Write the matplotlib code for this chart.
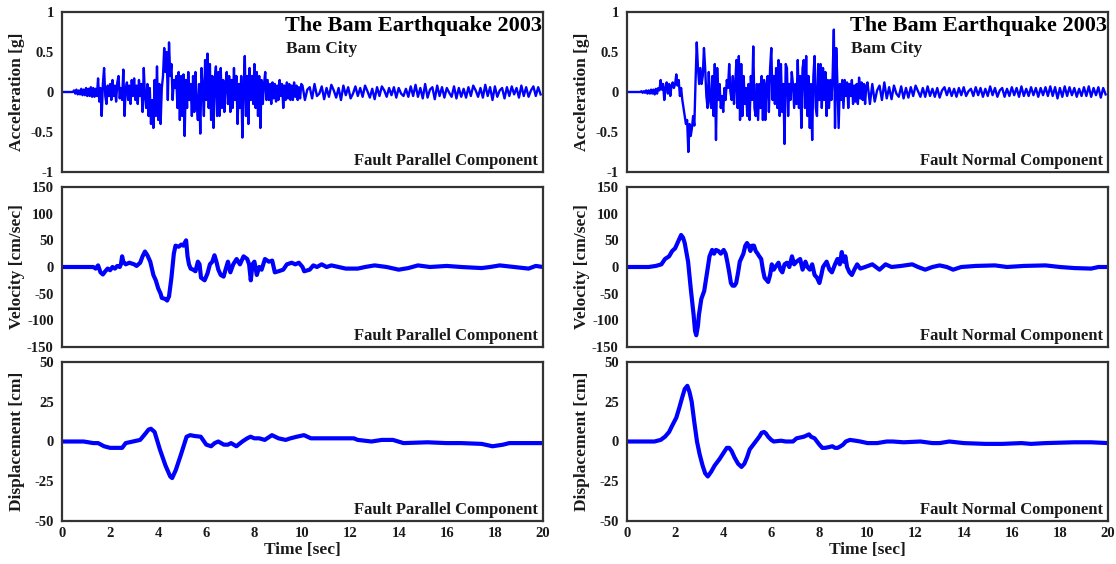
import numpy as np
import matplotlib
matplotlib.use("Agg")
import matplotlib.pyplot as plt

# ---------------- data ----------------
acc_dt_head = 0.05   # sampling step 0-10 s
acc_dt_tail = 0.10   # sampling step 10-20 s

acc_fp_head = [
    0, 0, 0, 0, 0, 0, 0, 0, 0, 0,
    0.02, -0.02, 0.03, -0.03, 0.02, -0.03, 0.04, -0.04, 0.03, -0.04,
    0.05, -0.05, 0.04, -0.05, 0.06, -0.06, 0.05, -0.06, 0.04, -0.05,
    0.17, -0.12, 0.05, -0.30, 0.10, 0.30, -0.05, -0.15, 0.08, -0.05,
    0.10, -0.10, 0.15, -0.05, 0.08, -0.12, 0.12, 0.20, -0.08, 0.05,
    -0.10, 0.28, -0.30, 0.05, 0.12, -0.10, 0.08, -0.15, 0.15, -0.05,
    0.17, -0.10, 0.08, -0.15, 0.15, -0.05, 0.10, -0.25, 0.30, -0.05,
    -0.20, 0.10, -0.30, 0.05, -0.40, -0.10, -0.45, 0.15, -0.30, 0.32,
    -0.35, 0.10, -0.40, 0.05, 0.20, 0.55, 0.25, 0.50, -0.10, 0.62,
    0.20, 0.35, -0.10, 0.15, 0.05, 0.20, -0.20, 0.25, -0.35, 0.20,
    -0.30, 0.22, -0.55, 0.15, -0.20, 0.25, -0.10, 0.10, -0.30, 0.20,
    -0.25, 0.25, -0.15, -0.35, 0.10, -0.52, 0.30, 0.05, -0.30, 0.40,
    -0.10, 0.48, -0.20, 0.35, -0.35, 0.20, -0.45, 0.15, 0.32, -0.30,
    0.25, -0.30, 0.30, -0.20, 0.15, -0.25, 0.10, 0.25, -0.15, 0.20,
    -0.25, 0.15, -0.20, 0.30, -0.10, 0.20, -0.40, 0.10, -0.20, 0.20,
    -0.57, 0.05, 0.45, -0.30, 0.20, -0.40, 0.30, -0.10, 0.20, -0.15,
    0.35, -0.20, 0.25, -0.30, 0.20, -0.45, 0.15, -0.15, 0.10, 0.25,
    -0.10, 0.15, -0.10, 0.10, -0.15, 0.12, -0.08, 0.10, -0.12, 0.08,
    -0.10, 0.15, -0.05, 0.10, -0.20, 0.08, -0.10, 0.12, -0.08, 0.10,
    -0.10, 0.08, -0.10, 0.12, -0.06, 0.08, -0.10, 0.06, -0.08, 0.10,
]
acc_fp_tail = [
    0.08, -0.10, 0.03, 0.06, -0.08, 0.10, -0.05, -0.02, 0.07, -0.09,
    0.05, -0.06, 0.09, 0.02, -0.07, 0.05, -0.10, 0.08, -0.04, 0.06,
    -0.08, -0.02, 0.07, -0.05, 0.05, -0.06, 0.08, 0.01, -0.07, 0.04,
    -0.09, 0.06, -0.05, 0.07, 0.02, -0.06, 0.05, -0.04, 0.06, -0.07,
    0.05, -0.02, -0.05, 0.04, -0.06, 0.07, -0.05, 0.09, -0.06, 0.05,
    -0.08, 0.10, -0.07, 0.03, 0.06, -0.09, 0.08, -0.05, 0.06, -0.07,
    0.05, -0.01, -0.06, 0.07, -0.08, 0.05, -0.06, 0.04, -0.07, 0.06,
    -0.05, 0.08, 0.02, -0.06, 0.05, -0.07, 0.09, -0.05, 0.06, -0.10,
    0.07, -0.06, 0.02, 0.05, -0.08, 0.06, -0.05, 0.07, -0.03, 0.05,
    -0.07, 0.08, -0.05, 0.06, -0.06, 0.02, 0.07, -0.05, 0.06, -0.03,
]

acc_fn_head = [
    0, 0, 0, 0, 0, 0, 0, 0, 0, 0,
    0, 0, 0.01, -0.01, 0.01, -0.01, 0.02, -0.02, 0.02, -0.02,
    0.03, -0.02, 0.03, -0.03, 0.04, -0.02, 0.05, 0.02, 0.15, 0.03,
    0.10, -0.10, 0.05, 0.12, -0.02, 0.10, -0.05, 0.08, 0.12, 0.05,
    0.10, 0.22, 0.08, 0.15, -0.05, 0.05, -0.10, -0.20, -0.30, -0.40,
    -0.35, -0.75, -0.40, -0.55, -0.45, -0.30, -0.42, 0.13, 0.62, 0.30,
    0.10, 0.30, 0.10, 0.20, 0.55, 0.30, -0.05, -0.20, 0.25, -0.10,
    -0.20, 0.20, -0.30, 0.35, -0.60, 0.30, -0.10, 0.10, -0.20, -0.05,
    -0.25, 0.05, -0.10, 0.15, 0.05, 0.35, 0.00, -0.10, 0.20, -0.15,
    0.10, 0.40, -0.20, 0.45, -0.35, 0.35, -0.30, 0.20, -0.15, 0.05,
    -0.30, 0.10, -0.35, 0.20, -0.10, 0.57, -0.20, -0.30, 0.10, -0.35,
    0.10, -0.20, 0.20, -0.35, 0.15, -0.35, 0.10, 0.20, -0.25, 0.30,
    0.55, -0.10, 0.20, -0.15, 0.30, -0.20, 0.40, -0.30, 0.35, -0.25,
    0.10, -0.65, 0.35, 0.30, -0.30, 0.10, -0.10, 0.25, 0.10, -0.20,
    0.10, -0.15, 0.40, -0.20, 0.20, -0.45, 0.30, 0.40, -0.20, 0.45,
    -0.30, 0.20, -0.45, 0.10, -0.60, 0.20, 0.45, -0.20, -0.30, 0.35,
    -0.10, 0.35, -0.20, 0.30, -0.10, 0.25, -0.30, 0.15, -0.20, 0.15,
    -0.10, 0.20, 0.78, -0.45, 0.55, 0.10, -0.45, 0.10, -0.10, 0.15,
    -0.20, 0.15, -0.05, 0.12, -0.20, 0.10, -0.05, 0.15, -0.15, 0.08,
    -0.12, 0.10, -0.15, 0.18, -0.08, 0.12, -0.10, 0.10, -0.15, 0.08,
]
acc_fn_tail = [
    0.12, -0.15, 0.10, -0.12, 0.02, 0.08, -0.10, 0.12, -0.08, 0.06,
    -0.09, 0.08, -0.02, -0.06, 0.07, -0.08, 0.05, -0.07, 0.06, -0.05,
    0.08, 0.01, -0.06, 0.05, -0.06, 0.07, -0.05, 0.04, -0.06, 0.05,
    -0.07, 0.02, 0.06, -0.04, 0.05, -0.05, 0.04, -0.06, 0.05, -0.04,
    0.06, -0.05, 0.01, 0.04, -0.05, 0.06, -0.04, 0.05, -0.06, 0.04,
    -0.05, 0.07, -0.04, 0.05, -0.06, 0.02, 0.05, -0.06, 0.04, -0.05,
    0.06, -0.04, 0.05, -0.06, 0.07, -0.05, 0.04, -0.05, 0.06, -0.04,
    0.05, -0.06, 0.05, -0.04, 0.06, -0.05, 0.07, -0.05, 0.06, -0.08,
    0.05, -0.06, 0.07, -0.05, 0.06, -0.04, 0.05, -0.06, 0.04, -0.05,
    0.06, -0.05, 0.07, -0.06, 0.05, -0.04, 0.06, -0.07, 0.05, -0.03,
]

vel_fp_t = [0, 1.3, 1.4, 1.5, 1.6, 1.7, 1.8, 1.9, 2.0, 2.1, 2.2, 2.3, 2.4, 2.45, 2.5, 2.55, 2.65, 2.8, 3.0, 3.1,
            3.25, 3.35, 3.45, 3.55, 3.67, 3.8, 3.9, 4.0, 4.1, 4.15, 4.3, 4.37, 4.45, 4.55, 4.65, 4.72, 4.85, 4.96, 5.05, 5.1,
            5.16, 5.22, 5.28, 5.35, 5.45, 5.55, 5.65, 5.72, 5.78, 5.93, 6.05, 6.15, 6.25, 6.34, 6.42, 6.5, 6.6, 6.72, 6.8, 6.9,
            7.0, 7.12, 7.26, 7.4, 7.55, 7.7, 7.78, 7.85, 7.92, 8.0, 8.1, 8.2, 8.3, 8.44, 8.6, 8.74, 8.85, 9.0, 9.2, 9.35,
            9.55, 9.7, 9.85, 10.0, 10.07, 10.3, 10.45, 10.6, 10.8, 11.0, 11.2, 11.5, 11.8, 12.3, 12.6, 13.0, 13.5, 14.0, 14.4, 14.8,
            15.3, 16.0, 16.6, 17.45, 17.8, 18.2, 18.8, 19.4, 19.7, 20.0]
vel_fp_v = [0, 0, -3, 3, -10, -14, -8, -3, -6, 0, -3, 2, 0, 5, 20, 10, 5, 8, 5, 2,
            8, 20, 29, 22, 10, -15, -25, -40, -50, -58, -60, -63, -55, -20, 25, 40, 38, 42, 40, 45,
            50, 20, 5, -3, -5, -8, 10, 5, -20, -25, -12, 5, 10, 22, 10, -5, -15, -18, -5, 10,
            -10, 5, 15, 5, 20, 15, 5, -25, 5, 10, -15, 0, -5, 15, 10, 12, -10, -8, -5, 5,
            8, 5, 8, 0, -8, -5, 3, 0, 5, 0, 3, 0, -3, -3, 0, 3, 0, -5, -2, 3,
            0, 2, 0, -2, 0, 3, 0, -3, 2, 0]

vel_fn_t = [0, 0.9, 1.2, 1.43, 1.58, 1.75, 1.88, 2.0, 2.1, 2.25, 2.33, 2.4, 2.54, 2.65, 2.77, 2.83, 2.88, 2.95, 2.99, 3.09,
            3.21, 3.33, 3.43, 3.54, 3.62, 3.7, 3.8, 3.9, 4.02, 4.1, 4.17, 4.25, 4.32, 4.39, 4.47, 4.54, 4.62, 4.69, 4.84, 4.92,
            4.99, 5.06, 5.13, 5.2, 5.28, 5.35, 5.43, 5.5, 5.58, 5.65, 5.72, 5.87, 5.95, 6.02, 6.1, 6.17, 6.3, 6.38, 6.46, 6.55,
            6.65, 6.75, 6.86, 6.95, 7.05, 7.2, 7.3, 7.42, 7.5, 7.6, 7.7, 7.8, 7.9, 8.0, 8.08, 8.15, 8.3, 8.42, 8.52, 8.65,
            8.75, 8.85, 8.93, 9.0, 9.08, 9.15, 9.25, 9.35, 9.45, 9.57, 9.7, 9.9, 10.2, 10.5, 10.75, 11.0, 11.4, 11.86, 12.1, 12.4,
            12.7, 13.0, 13.3, 13.56, 13.9, 14.5, 15.3, 15.8, 16.5, 17.4, 18.0, 18.6, 19.3, 19.6, 20.0]
vel_fn_v = [0, 0, 2, 5, 15, 20, 30, 35, 45, 60, 55, 45, 10, -40, -90, -120, -128, -110, -90, -60,
            -45, -10, 20, 32, 25, 32, 30, 25, 32, 25, 10, -10, -30, -35, -35, -30, -10, 10, 25, 40,
            45, 40, 30, 40, 40, 30, 25, 20, 15, -5, -20, -28, -15, 5, -5, 0, 8, -5, -10, 5,
            8, 0, 20, 5, 10, 15, -5, 10, 0, -5, 5, -15, -20, -30, -15, 0, 10, -5, -10, 5,
            15, 5, 28, 10, 20, 0, -10, -15, -5, 5, -3, 0, 5, -5, 5, 0, 2, 5, 0, -5,
            0, 3, 0, -5, 0, 2, 3, 0, 2, 3, 0, -2, -3, 0, 0]

disp_fp_t = [0, 0.9, 1.3, 1.5, 1.75, 2.0, 2.2, 2.5, 2.65, 2.95, 3.25, 3.47, 3.6, 3.7, 3.85, 4.07, 4.3, 4.5, 4.58, 4.73,
             4.95, 5.18, 5.33, 5.5, 5.77, 6.0, 6.2, 6.35, 6.5, 6.73, 6.9, 7.03, 7.25, 7.5, 7.7, 7.84, 8.0, 8.2, 8.43, 8.73,
             9.0, 9.3, 9.5, 9.76, 10.06, 10.35, 10.8, 11.5, 12.13, 12.3, 12.87, 13.3, 13.76, 14.2, 15.2, 15.98, 16.6, 17.45, 17.9, 18.34,
             18.6, 20.0]
disp_fp_d = [0, 0, -1, -1, -3, -4, -4, -4, -1, 0, 1, 5, 7.5, 8, 6, -5, -15, -22, -23, -18,
             -8, 3, 4, 3.5, 3, -2, -3, -1, 0, -2, -2, -1, -3, 0, 2, 3, 2, 2, 1, 4,
             2, 1, 2, 3, 4, 2, 2, 2, 2, 1, 0, 1, 1, -1, -0.5, -1, -1, -1.5, -3, -2,
             -1, -1]

disp_fn_t = [0, 1.14, 1.4, 1.58, 1.75, 1.88, 2.05, 2.17, 2.3, 2.4, 2.51, 2.6, 2.69, 2.8, 2.91, 3.02, 3.14, 3.25, 3.36, 3.5,
             3.65, 3.85, 4.02, 4.15, 4.25, 4.35, 4.47, 4.62, 4.76, 4.88, 4.99, 5.1, 5.2, 5.35, 5.5, 5.6, 5.7, 5.78, 5.87, 6.0,
             6.1, 6.4, 6.6, 6.9, 7.05, 7.2, 7.35, 7.5, 7.57, 7.65, 7.8, 7.9, 8.0, 8.12, 8.24, 8.4, 8.54, 8.65, 8.76, 8.88,
             8.98, 9.1, 9.27, 9.5, 9.7, 10.0, 10.4, 10.8, 11.05, 11.5, 12.2, 12.7, 13.0, 13.4, 14.0, 14.9, 15.6, 16.4, 16.8, 17.4,
             18.6, 19.3, 20.0]
disp_fn_d = [0, 0, 1, 3, 6, 10, 15, 21, 28, 33, 35, 31, 25, 12, 0, -8, -15, -20, -22, -19,
             -15, -11, -7, -4, -4, -6, -10, -14, -16, -14, -10, -5, -3, 0, 3, 5.5, 6, 5, 3, 1,
             0, 0.5, 0, 0, 2, 2.5, 3, 4, 4.5, 3, 2, 0, -2, -4, -4, -3.5, -3, -4, -4, -3,
             -2, 0, 1, 0.5, 0, -1, -1, 0, 0, -0.5, 0, -1, -1, 0, -1, -1.5, -1.5, -1, -1.5, -1,
             -0.5, -0.5, -1]

x_ticks = [0, 2, 4, 6, 8, 10, 12, 14, 16, 18, 20]
acc_ticks = [-1, -0.5, 0, 0.5, 1]
vel_ticks = [-150, -100, -50, 0, 50, 100, 150]
disp_ticks = [-50, -25, 0, 25, 50]
components = ["Fault Parallel Component", "Fault Normal Component"]
title_text = "The Bam Earthquake 2003"
subtitle_text = "Bam City"

# ---------------- drawing ----------------
FONT = "Liberation Serif"
plt.rcParams["font.family"] = [FONT, "DejaVu Serif"]
plt.rcParams["font.weight"] = "bold"
TXT = "#1a1a1a"
BLUE = "#0000ff"
TICK_FS = 10.5
LAB_FS = 12.5
COMP_FS = 12

fig = plt.figure(figsize=(11.16, 5.64), dpi=100)
W, H = 1116.0, 564.0
lefts = [62 / W, 627 / W]
width = 481 / W
rows = [(12, 172), (187, 347), (362, 521)]


def make_ax(col, row):
    top, bot = rows[row]
    ax = fig.add_axes([lefts[col], (H - bot) / H, width, (bot - top) / H])
    for s in ax.spines.values():
        s.set_color("#333333")
        s.set_linewidth(1.6)
    ax.tick_params(length=0, labelsize=TICK_FS, colors=TXT, pad=6)
    ax.set_xlim(0, 20)
    ax.set_xticks(x_ticks)
    return ax


def finish(ax, ylabel, comp):
    ax.set_ylabel(ylabel, fontsize=LAB_FS, fontweight="bold", color=TXT)
    ax.yaxis.set_label_coords(-0.076, 0.5)
    ax.text(0.99, 0.07, comp, transform=ax.transAxes, fontsize=COMP_FS,
            fontweight="bold", color=TXT, ha="right", va="center")


acc_t_fp = np.concatenate([np.arange(len(acc_fp_head)) * acc_dt_head,
                           10 + np.arange(len(acc_fp_tail)) * acc_dt_tail])
acc_t_fn = np.concatenate([np.arange(len(acc_fn_head)) * acc_dt_head,
                           10 + np.arange(len(acc_fn_tail)) * acc_dt_tail])
acc_series = [(acc_t_fp, acc_fp_head + acc_fp_tail), (acc_t_fn, acc_fn_head + acc_fn_tail)]
vel_series = [(vel_fp_t, vel_fp_v), (vel_fn_t, vel_fn_v)]
disp_series = [(disp_fp_t, disp_fp_d), (disp_fn_t, disp_fn_d)]

for col in range(2):
    # acceleration
    ax = make_ax(col, 0)
    t, a = acc_series[col]
    ax.plot(t, a, color=BLUE, lw=1.7)
    ax.set_ylim(-1, 1)
    ax.set_yticks(acc_ticks)
    ax.set_yticklabels(["-1", "-0.5", "0", "0.5", "1"], fontweight="bold")
    ax.set_xticklabels([])
    finish(ax, "Acceleration [g]", components[col])
    ax.text(0.464, 0.915, title_text, transform=ax.transAxes, fontsize=16,
            fontweight="bold", color="black", ha="left", va="center")
    ax.text(0.466, 0.77, subtitle_text, transform=ax.transAxes, fontsize=12.5,
            fontweight="bold", color=TXT, ha="left", va="center")

    # velocity
    ax = make_ax(col, 1)
    t, v = vel_series[col]
    ax.plot(t, v, color=BLUE, lw=3.0)
    ax.set_ylim(-150, 150)
    ax.set_yticks(vel_ticks)
    ax.set_yticklabels([str(v_) for v_ in vel_ticks], fontweight="bold")
    ax.set_xticklabels([])
    finish(ax, "Velocity [cm/sec]", components[col])

    # displacement
    ax = make_ax(col, 2)
    t, d = disp_series[col]
    ax.plot(t, d, color=BLUE, lw=3.0)
    ax.set_ylim(-50, 50)
    ax.set_yticks(disp_ticks)
    ax.set_yticklabels([str(v_) for v_ in disp_ticks], fontweight="bold")
    ax.set_xticklabels([str(v_) for v_ in x_ticks], fontweight="bold")
    ax.tick_params(axis="x", pad=4)
    finish(ax, "Displacement [cm]", components[col])
    ax.set_xlabel("Time [sec]", fontsize=LAB_FS, fontweight="bold", color=TXT, labelpad=2)

fig.savefig("out.png", dpi=100)
